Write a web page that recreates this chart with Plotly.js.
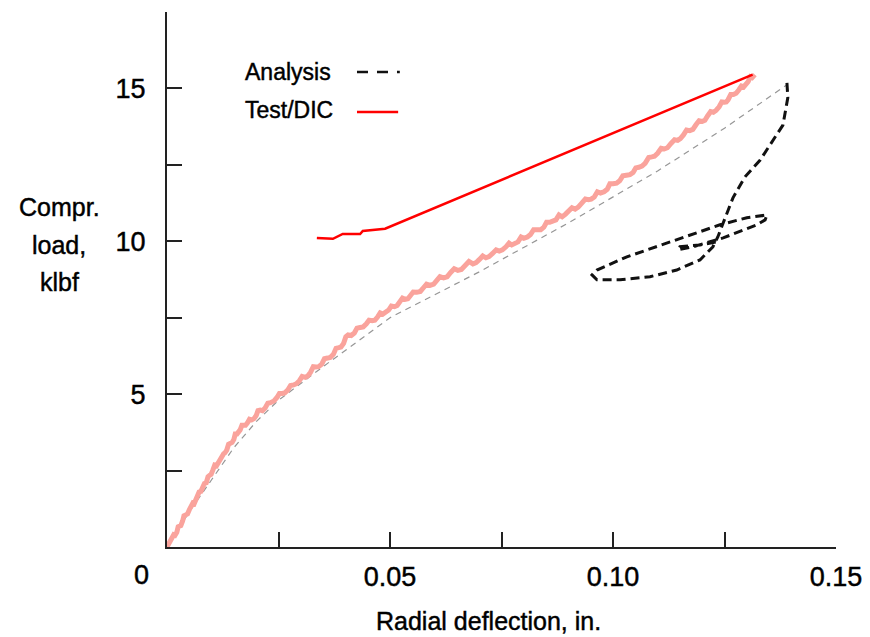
<!DOCTYPE html>
<html>
<head>
<meta charset="utf-8">
<script src="https://cdn.plot.ly/plotly-3.0.1.min.js"></script>
<style>html,body{margin:0;padding:0;background:#fff;}#chart{width:870px;height:637px;}
#chart svg text{stroke:#000;stroke-width:0.45px;}</style>
</head>
<body>
<div id="chart"></div>
<script>
const testX = [0, 0.0004, 0.0008, 0.0011, 0.0015, 0.0018, 0.0022, 0.0025, 0.0028, 0.0031, 0.0035, 0.0038, 0.0042, 0.0046, 0.0050, 0.0054, 0.0058, 0.0061, 0.0065, 0.0068, 0.0072, 0.0076, 0.0081, 0.0084, 0.0088, 0.0092, 0.0096, 0.0099, 0.0103, 0.0107, 0.0111, 0.0115, 0.0119, 0.0123, 0.0127, 0.0130, 0.0134, 0.0138, 0.0142, 0.0146, 0.0150, 0.0153, 0.0157, 0.0160, 0.0164, 0.0168, 0.0172, 0.0176, 0.0180, 0.0185, 0.0190, 0.0195, 0.0200, 0.0204, 0.0209, 0.0214, 0.0220, 0.0226, 0.0232, 0.0240, 0.0247, 0.0252, 0.0258, 0.0264, 0.0270, 0.0277, 0.0284, 0.0290, 0.0297, 0.0303, 0.0310, 0.0316, 0.0322, 0.0328, 0.0334, 0.0340, 0.0347, 0.0353, 0.0360, 0.0366, 0.0373, 0.0379, 0.0385, 0.0390, 0.0396, 0.0401, 0.0406, 0.0413, 0.0420, 0.0426, 0.0433, 0.0440, 0.0447, 0.0453, 0.0460, 0.0466, 0.0472, 0.0478, 0.0484, 0.0490, 0.0497, 0.0503, 0.0510, 0.0516, 0.0522, 0.0528, 0.0534, 0.0540, 0.0545, 0.0552, 0.0560, 0.0568, 0.0575, 0.0582, 0.0590, 0.0598, 0.0605, 0.0612, 0.0620, 0.0628, 0.0636, 0.0644, 0.0652, 0.0660, 0.0668, 0.0677, 0.0686, 0.0693, 0.0700, 0.0708, 0.0715, 0.0722, 0.0730, 0.0738, 0.0745, 0.0752, 0.0760, 0.0767, 0.0773, 0.0780, 0.0787, 0.0794, 0.0800, 0.0808, 0.0815, 0.0822, 0.0830, 0.0838, 0.0845, 0.0851, 0.0858, 0.0865, 0.0872, 0.0879, 0.0886, 0.0893, 0.0900, 0.0908, 0.0915, 0.0922, 0.0930, 0.0938, 0.0945, 0.0951, 0.0958, 0.0965, 0.0972, 0.0980, 0.0987, 0.0993, 0.1000, 0.1008, 0.1015, 0.1022, 0.1030, 0.1038, 0.1045, 0.1051, 0.1058, 0.1065, 0.1072, 0.1080, 0.1087, 0.1093, 0.1100, 0.1108, 0.1115, 0.1122, 0.1130, 0.1138, 0.1145, 0.1151, 0.1158, 0.1165, 0.1172, 0.1179, 0.1186, 0.1193, 0.1200, 0.1206, 0.1212, 0.1219, 0.1225, 0.1231, 0.1238, 0.1244, 0.1250, 0.1254, 0.1258, 0.1264, 0.1270, 0.1276, 0.1282, 0.1288, 0.1293, 0.1298, 0.1303, 0.1308, 0.1312, 0.1315, 0.1318];
const testY = [0, 0.12, 0.15, 0.32, 0.40, 0.38, 0.48, 0.66, 0.70, 0.70, 0.85, 1.02, 1.05, 1.08, 1.22, 1.38, 1.44, 1.42, 1.55, 1.72, 1.80, 1.82, 1.96, 2.08, 2.10, 2.30, 2.35, 2.38, 2.52, 2.68, 2.66, 2.76, 2.90, 3.02, 3.05, 3.08, 3.17, 3.36, 3.40, 3.42, 3.52, 3.70, 3.70, 3.74, 3.83, 3.98, 3.98, 3.98, 4.05, 4.18, 4.16, 4.20, 4.30, 4.46, 4.48, 4.46, 4.55, 4.70, 4.72, 4.78, 4.90, 5.02, 5.02, 5.04, 5.12, 5.28, 5.30, 5.34, 5.44, 5.58, 5.55, 5.60, 5.72, 5.90, 5.89, 5.90, 5.98, 6.16, 6.18, 6.20, 6.30, 6.50, 6.52, 6.54, 6.66, 6.88, 6.94, 6.92, 7.00, 7.16, 7.18, 7.20, 7.30, 7.42, 7.40, 7.42, 7.52, 7.66, 7.62, 7.66, 7.75, 7.88, 7.86, 7.90, 8.02, 8.14, 8.10, 8.12, 8.21, 8.34, 8.33, 8.36, 8.48, 8.60, 8.56, 8.60, 8.72, 8.84, 8.80, 8.84, 8.98, 9.10, 9.05, 9.08, 9.20, 9.34, 9.26, 9.30, 9.40, 9.52, 9.46, 9.50, 9.60, 9.72, 9.68, 9.72, 9.82, 9.94, 9.88, 9.92, 9.98, 10.14, 10.10, 10.14, 10.22, 10.38, 10.36, 10.38, 10.46, 10.62, 10.62, 10.64, 10.70, 10.86, 10.80, 10.88, 10.98, 11.10, 11.05, 11.12, 11.25, 11.38, 11.36, 11.38, 11.45, 11.62, 11.58, 11.62, 11.70, 11.88, 11.88, 11.90, 11.98, 12.14, 12.16, 12.18, 12.25, 12.40, 12.42, 12.46, 12.55, 12.74, 12.76, 12.78, 12.88, 13.04, 13.02, 13.06, 13.20, 13.32, 13.30, 13.36, 13.48, 13.64, 13.62, 13.66, 13.81, 13.94, 13.92, 13.96, 14.10, 14.24, 14.22, 14.28, 14.40, 14.56, 14.55, 14.56, 14.63, 14.80, 14.80, 14.84, 14.95, 15.08, 15.05, 15.14, 15.22, 15.38, 15.35, 15.40, 15.45];

// Analysis, linear (thin grey dashed)
const linX = [0, 0.005, 0.010, 0.015, 0.020, 0.025, 0.035, 0.050, 0.070, 0.090, 0.110, 0.125, 0.139];
const linY = [0, 1.15, 2.20, 3.25, 4.10, 4.80, 5.90, 7.50, 9.00, 10.60, 12.30, 13.70, 15.12];

// Analysis, nonlinear (black dashed)
const anaX = [0.1390, 0.1392, 0.1381, 0.1330, 0.1296, 0.1269, 0.1247, 0.1235, 0.1224, 0.1195, 0.1143, 0.1083, 0.1016, 0.0964, 0.0953, 0.0964, 0.1031, 0.1128, 0.1240, 0.1300, 0.1345, 0.1341, 0.1323, 0.1247, 0.1179, 0.1146, 0.1150, 0.1195, 0.1233];
const anaY = [15.18, 14.70, 13.80, 12.66, 12.11, 11.42, 10.60, 10.14, 9.82, 9.39, 9.06, 8.84, 8.74, 8.74, 8.90, 9.06, 9.49, 9.98, 10.54, 10.77, 10.86, 10.70, 10.54, 10.11, 9.82, 9.72, 9.82, 9.88, 9.98];

// Test / DIC (solid red)
const dicX = [0.0336, 0.0372, 0.0394, 0.0433, 0.0439, 0.0489, 0.1313];
const dicY = [10.11, 10.08, 10.24, 10.24, 10.34, 10.41, 15.45];

// Axis ticks
const xTickVals = [0, 0.025, 0.05, 0.075, 0.10, 0.125, 0.15];
const xTickText = ["", "", "0.05", "", "0.10", "", "0.15"];
const yTickVals = [0, 2.5, 5, 7.5, 10, 12.5, 15, 17.5];
const yTickText = ["", "", "5", "", "10", "", "15", ""];

const FONT = '"Liberation Sans", Arial, Helvetica, sans-serif';

const traces = [
  {x: linX, y: linY, mode: 'lines', line: {color: 'rgb(150,150,150)', width: 1.2, dash: '6px,5px'}, hoverinfo: 'skip'},
  {x: testX, y: testY, mode: 'lines', line: {color: 'rgb(250,163,156)', width: 5}, hoverinfo: 'skip'},
  {x: dicX, y: dicY, mode: 'lines', line: {color: 'rgb(255,0,0)', width: 2.5}, hoverinfo: 'skip'},
  {x: anaX, y: anaY, mode: 'lines', line: {color: 'rgb(17,17,17)', width: 3, dash: '9px,5px'}, hoverinfo: 'skip'}
];

const axCommon = {
  showgrid: false, zeroline: false, showline: true, linecolor: '#222', linewidth: 2,
  ticks: 'inside', ticklen: 15, tickwidth: 2, tickcolor: '#222',
  tickmode: 'array', tickfont: {family: FONT, size: 27, color: '#000'}, fixedrange: true
};

const layout = {
  width: 870, height: 637,
  margin: {l: 167, r: 34, t: 12, b: 90},
  paper_bgcolor: '#fff', plot_bgcolor: '#fff',
  showlegend: false,
  font: {family: FONT, color: '#000'},
  xaxis: Object.assign({}, axCommon, {range: [0, 0.15], tickvals: xTickVals, ticktext: xTickText, ticklabelstandoff: 5}),
  yaxis: Object.assign({}, axCommon, {range: [0, 17.5], tickvals: yTickVals, ticktext: yTickText, ticklabelstandoff: 14}),
  annotations: [
    {text: '0', xref: 'paper', yref: 'paper', x: -0.0374, y: -0.0523, xanchor: 'center', yanchor: 'middle', showarrow: false, font: {family: FONT, size: 27, color: '#000'}},
    {text: 'Radial deflection, in.', xref: 'paper', yref: 'paper', x: 0.4813, y: -0.1383, xanchor: 'center', yanchor: 'middle', showarrow: false, font: {family: FONT, size: 25, color: '#000'}},
    {text: 'Compr.', xref: 'paper', yref: 'paper', x: -0.1614, y: 0.6355, xanchor: 'center', yanchor: 'middle', showarrow: false, font: {family: FONT, size: 25, color: '#000'}},
    {text: 'load,', xref: 'paper', yref: 'paper', x: -0.1614, y: 0.5645, xanchor: 'center', yanchor: 'middle', showarrow: false, font: {family: FONT, size: 25, color: '#000'}},
    {text: 'klbf', xref: 'paper', yref: 'paper', x: -0.1614, y: 0.4953, xanchor: 'center', yanchor: 'middle', showarrow: false, font: {family: FONT, size: 25, color: '#000'}},
    {text: 'Analysis', xref: 'paper', yref: 'paper', x: 0.1136, y: 0.888, xanchor: 'left', yanchor: 'middle', showarrow: false, font: {family: FONT, size: 23, color: '#000'}},
    {text: 'Test/DIC', xref: 'paper', yref: 'paper', x: 0.1136, y: 0.8168, xanchor: 'left', yanchor: 'middle', showarrow: false, font: {family: FONT, size: 23, color: '#000'}}
  ],
  shapes: [
    {type: 'line', xref: 'paper', yref: 'paper', x0: 0.2840, x1: 0.3480, y0: 0.888, y1: 0.888, line: {color: 'rgb(17,17,17)', width: 2.5, dash: '11px,9px'}},
    {type: 'line', xref: 'paper', yref: 'paper', x0: 0.2840, x1: 0.3455, y0: 0.8131, y1: 0.8131, line: {color: 'rgb(255,0,0)', width: 2.5}}
  ]
};

Plotly.newPlot('chart', traces, layout, {displayModeBar: false, staticPlot: true});
</script>
</body>
</html>
